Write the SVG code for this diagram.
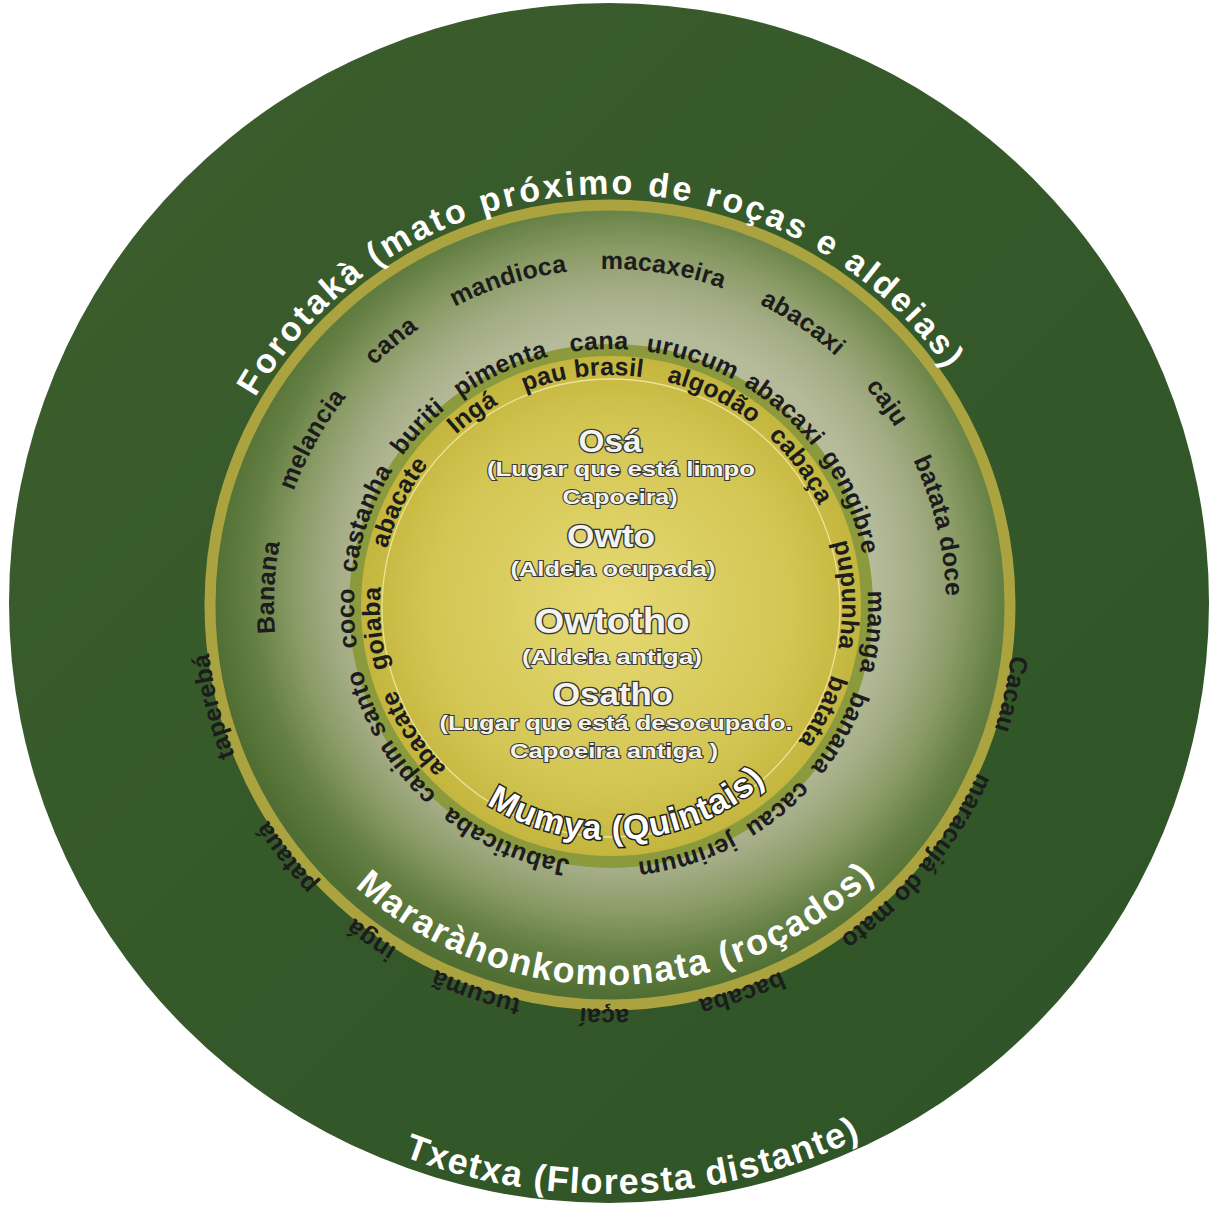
<svg xmlns="http://www.w3.org/2000/svg" xmlns:xlink="http://www.w3.org/1999/xlink" width="1211" height="1207" viewBox="0 0 1211 1207">
<style>
.w{font-family:"Liberation Sans",Arial,sans-serif;font-weight:bold;font-size:25px;fill:#1c1c1c;letter-spacing:0.2px}
.t{font-family:"Liberation Sans",Arial,sans-serif;font-weight:bold;fill:#ffffff}
.big{font-family:"Liberation Sans",Arial,sans-serif;font-weight:bold;fill:#f4f4ec;stroke:#383838;stroke-width:2.6px;paint-order:stroke fill;text-anchor:middle}
.sub{font-family:"Liberation Sans",Arial,sans-serif;font-weight:bold;font-size:21px;fill:#f4f4ec;stroke:#3a3a3a;stroke-width:2px;paint-order:stroke fill;text-anchor:middle}
</style>
<defs>
<linearGradient id="gOuter" x1="0" y1="0" x2="1" y2="1">
<stop offset="0" stop-color="#3d5e2d"/>
<stop offset="1" stop-color="#2d5326"/>
</linearGradient>
<radialGradient id="gMid" cx="0.52" cy="0.47" r="0.52">
<stop offset="0" stop-color="#d0d4bc"/>
<stop offset="0.6" stop-color="#b5bb98"/>
<stop offset="0.7" stop-color="#a5ad87"/>
<stop offset="0.8" stop-color="#8a9b66"/>
<stop offset="0.9" stop-color="#658044"/>
<stop offset="1" stop-color="#506e33"/>
</radialGradient>
<radialGradient id="gIn" cx="0.5" cy="0.5" r="0.5">
<stop offset="0" stop-color="#e6d974"/>
<stop offset="0.7" stop-color="#d3c653"/>
<stop offset="1" stop-color="#c2b43c"/>
</radialGradient>
<path id="pA" d="M274 605A336 336 0 1 1 946 605A336 336 0 1 1 274 605A336 336 0 1 1 946 605A336 336 0 1 1 274 605"/>
<path id="pB" d="M354 606A257 257 0 1 1 868 606A257 257 0 1 1 354 606A257 257 0 1 1 868 606A257 257 0 1 1 354 606"/>
<path id="pC" d="M380 606A231 231 0 1 1 842 606A231 231 0 1 1 380 606A231 231 0 1 1 842 606A231 231 0 1 1 380 606"/>
<path id="pD" d="M206 605A404 404 0 1 1 1014 605A404 404 0 1 1 206 605A404 404 0 1 1 1014 605A404 404 0 1 1 206 605"/>
<path id="pF" d="M199 605A411 411 0 1 1 1021 605A411 411 0 1 1 199 605A411 411 0 1 1 1021 605A411 411 0 1 1 199 605"/>
<path id="pM" d="M230 605A380 380 0 0 0 990 605"/>
<path id="pT" d="M21 605A589 589 0 0 0 1199 605"/>
<path id="pQ" d="M377 606A234 234 0 0 0 845 606"/>
</defs>

<g id="txetxa">
<circle cx="609" cy="603" r="600" fill="url(#gOuter)"/>
<text class="t" font-size="36"><textPath href="#pT" startOffset="948.8" text-anchor="middle" textLength="470" lengthAdjust="spacing">Txetxa (Floresta distante)</textPath></text>
</g>

<g id="forotaka">
<circle cx="610" cy="605" r="400" fill="url(#gMid)" stroke="#aba33f" stroke-width="11"/>
<text class="t" font-size="34"><textPath href="#pF" startOffset="3210" text-anchor="middle" textLength="822" lengthAdjust="spacing">Forotakà (mato próximo de roças e aldeias)</textPath></text>
</g>

<g id="mararahonkomonata">
<text class="t" font-size="36"><textPath href="#pM" startOffset="603" text-anchor="middle" textLength="572" lengthAdjust="spacing">Mararàhonkomonata (roçados)</textPath></text>
</g>

<g id="mumya">
<circle cx="611" cy="606" r="256" fill="url(#gIn)" stroke="#8c9a3e" stroke-width="12"/>
<circle cx="611" cy="608" r="229" fill="none" stroke="#f3eaa6" stroke-width="1.3" opacity="0.85"/>
<text class="t" font-size="34" stroke="#222" stroke-width="3" paint-order="stroke fill"><textPath href="#pQ" startOffset="386" text-anchor="middle" textLength="300" lengthAdjust="spacing">Mumya (Quintais)</textPath></text>
</g>

<g id="center-labels">
<text class="big" x="610" y="452" font-size="31" textLength="63" lengthAdjust="spacingAndGlyphs">Osá</text>
<text class="sub" x="621" y="476" textLength="268" lengthAdjust="spacingAndGlyphs">(Lugar que está limpo</text>
<text class="sub" x="620" y="504" textLength="115" lengthAdjust="spacingAndGlyphs">Capoeira)</text>
<text class="big" x="611" y="547" font-size="31" textLength="88" lengthAdjust="spacingAndGlyphs">Owto</text>
<text class="sub" x="613" y="576" textLength="205" lengthAdjust="spacingAndGlyphs">(Aldeia ocupada)</text>
<text class="big" x="612" y="633" font-size="35" textLength="155" lengthAdjust="spacingAndGlyphs">Owtotho</text>
<text class="sub" x="612" y="664" textLength="180" lengthAdjust="spacingAndGlyphs">(Aldeia antiga)</text>
<text class="big" x="613" y="705" font-size="31" textLength="120" lengthAdjust="spacingAndGlyphs">Osatho</text>
<text class="sub" x="616" y="730" textLength="353" lengthAdjust="spacingAndGlyphs">(Lugar que está desocupado.</text>
<text class="sub" x="614" y="758" textLength="208" lengthAdjust="spacingAndGlyphs">Capoeira antiga )</text>
</g>

<g id="plants-forotaka">
<text class="w"><textPath href="#pA" startOffset="2127.5" text-anchor="middle">Banana</textPath></text>
<text class="w"><textPath href="#pA" startOffset="2280.5" text-anchor="middle">melancia</textPath></text>
<text class="w"><textPath href="#pA" startOffset="2405.4" text-anchor="middle">cana</textPath></text>
<text class="w"><textPath href="#pA" startOffset="2535.6" text-anchor="middle">mandioca</textPath></text>
<text class="w"><textPath href="#pA" startOffset="580.5" text-anchor="middle">macaxeira</textPath></text>
<text class="w"><textPath href="#pA" startOffset="728.9" text-anchor="middle">abacaxi</textPath></text>
<text class="w"><textPath href="#pA" startOffset="843.2" text-anchor="middle">caju</textPath></text>
<text class="w"><textPath href="#pA" startOffset="975.8" text-anchor="middle">batata doce</textPath></text>
</g>

<g id="plants-roca">
<text class="w"><textPath href="#pB" startOffset="1602" text-anchor="middle">coco</textPath></text>
<text class="w"><textPath href="#pB" startOffset="1702" text-anchor="middle">castanha</textPath></text>
<text class="w"><textPath href="#pB" startOffset="1806" text-anchor="middle">buriti</textPath></text>
<text class="w"><textPath href="#pB" startOffset="1905.4" text-anchor="middle">pimenta</textPath></text>
<text class="w"><textPath href="#pB" startOffset="2005.9" text-anchor="middle">cana</textPath></text>
<text class="w"><textPath href="#pB" startOffset="484.9" text-anchor="middle">urucum</textPath></text>
<text class="w"><textPath href="#pB" startOffset="588.9" text-anchor="middle">abacaxi</textPath></text>
<text class="w"><textPath href="#pB" startOffset="702.0" text-anchor="middle">gengibre</textPath></text>
<text class="w"><textPath href="#pB" startOffset="832.5" text-anchor="middle">manga</textPath></text>
<text class="w"><textPath href="#pB" startOffset="937.9" text-anchor="middle">banana</textPath></text>
<text class="w"><textPath href="#pB" startOffset="1034.4" text-anchor="middle">cacau</textPath></text>
<text class="w"><textPath href="#pB" startOffset="1134.8" text-anchor="middle">jerimum</textPath></text>
<text class="w"><textPath href="#pB" startOffset="1317.8" text-anchor="middle">Jabuticaba</textPath></text>
<text class="w"><textPath href="#pB" startOffset="1476" text-anchor="middle">capim santo</textPath></text>
</g>

<g id="plants-quintais">
<text class="w"><textPath href="#pC" startOffset="1428.8" text-anchor="middle">goiaba</textPath></text>
<text class="w"><textPath href="#pC" startOffset="1556" text-anchor="middle">abacate</textPath></text>
<text class="w"><textPath href="#pC" startOffset="1670" text-anchor="middle">Ingá</textPath></text>
<text class="w"><textPath href="#pC" startOffset="1785.2" text-anchor="middle">pau brasil</textPath></text>
<text class="w"><textPath href="#pC" startOffset="467.3" text-anchor="middle">algodão</textPath></text>
<text class="w"><textPath href="#pC" startOffset="578.5" text-anchor="middle">cabaça</textPath></text>
<text class="w"><textPath href="#pC" startOffset="714.4" text-anchor="middle">pupunha</textPath></text>
<text class="w"><textPath href="#pC" startOffset="832.5" text-anchor="middle">batata</textPath></text>
<text class="w"><textPath href="#pC" startOffset="1318.4" text-anchor="middle">abacate</textPath></text>
</g>

<g id="plants-txetxa">
<text class="w"><textPath href="#pD" startOffset="1357.3" text-anchor="middle">Cacau</textPath></text>
<text class="w"><textPath href="#pD" startOffset="1549.8" text-anchor="middle">maracujá do mato</textPath></text>
<text class="w"><textPath href="#pD" startOffset="1770.5" text-anchor="middle">bacaba</textPath></text>
<text class="w"><textPath href="#pD" startOffset="1908.7" text-anchor="middle">açaí</textPath></text>
<text class="w"><textPath href="#pD" startOffset="2037.8" text-anchor="middle">tucumã</textPath></text>
<text class="w"><textPath href="#pD" startOffset="2153.4" text-anchor="middle">ingá</textPath></text>
<text class="w"><textPath href="#pD" startOffset="2269.8" text-anchor="middle">patauá</textPath></text>
<text class="w"><textPath href="#pD" startOffset="2436.2" text-anchor="middle">taperebá</textPath></text>
</g>

<g id="connectors"></g>
</svg>
